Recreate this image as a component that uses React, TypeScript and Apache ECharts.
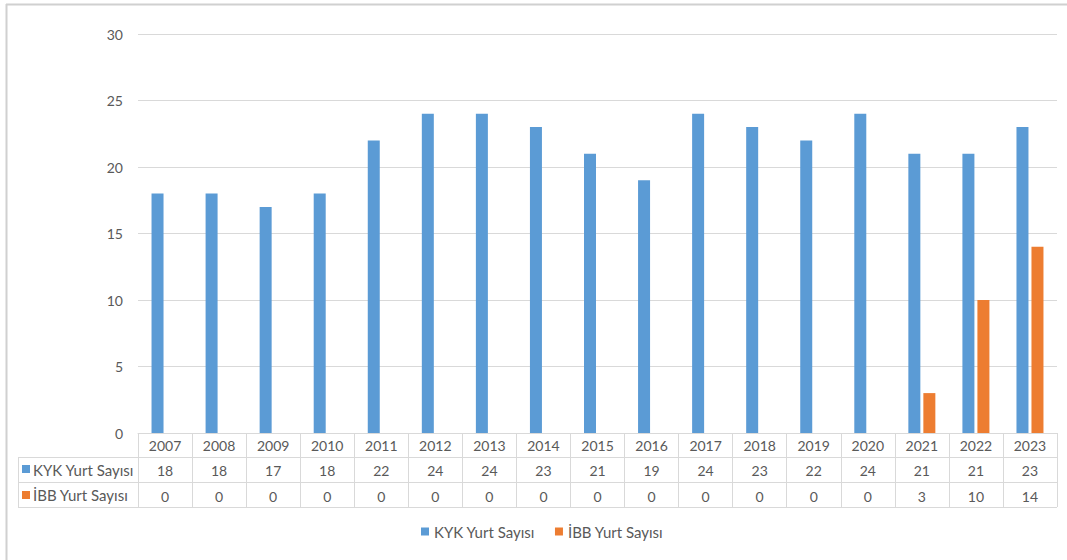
import React, { useEffect, useRef } from "react";
import * as echarts from "echarts";

const years = ["2007","2008","2009","2010","2011","2012","2013","2014","2015","2016","2017","2018","2019","2020","2021","2022","2023"];
const kyk = [18,18,17,18,22,24,24,23,21,19,24,23,22,24,21,21,23];
const ibb = [0,0,0,0,0,0,0,0,0,0,0,0,0,0,3,10,14];
const seriesNames = ["KYK Yurt Sayısı", "İBB Yurt Sayısı"];
const colors = ["#5b9bd5", "#ed7d31"];
const yTicks = { min: 0, max: 30, interval: 5 };

const FONT = "Lato, 'Open Sans', sans-serif";
const TXT = "#595959";
const LINE = "#d9d9d9";

export default function App() {
  const ref = useRef<HTMLDivElement>(null);
  useEffect(() => {
    const chart = echarts.init(ref.current!, null, { renderer: "svg" });
    const gridLeft = 138, gridRight = 1057, axisY = 433;
    const rowH = [457, 482, 507];
    const labelBase = { fontFamily: FONT, fontSize: 14, color: TXT, margin: 5 };
    chart.setOption({
      animation: false,
      backgroundColor: "#fff",
      textStyle: { fontFamily: FONT },
      grid: { left: gridLeft, right: 1067 - gridRight, top: 34, bottom: 560 - axisY },
      legend: {
        bottom: 16,
        left: 416,
        icon: "rect",
        itemWidth: 8,
        itemHeight: 8,
        itemGap: 20,
        textStyle: { color: TXT, fontSize: 15, fontFamily: FONT },
        data: seriesNames,
      },
      xAxis: [
        {
          type: "category",
          data: years,
          position: "bottom",
          axisLine: { lineStyle: { color: LINE } },
          axisTick: { show: true, interval: 0, length: rowH[2] - axisY, lineStyle: { color: LINE } },
          axisLabel: { ...labelBase, interval: 0 },
        },
        {
          type: "category",
          data: kyk.map(String),
          position: "bottom",
          offset: 25,
          axisLine: { show: false },
          axisTick: { show: false },
          axisLabel: { ...labelBase, interval: 0 },
        },
        {
          type: "category",
          data: ibb.map(String),
          position: "bottom",
          offset: 51,
          axisLine: { show: false },
          axisTick: { show: false },
          axisLabel: { ...labelBase, interval: 0 },
        },
      ],
      yAxis: {
        type: "value",
        min: yTicks.min,
        max: yTicks.max,
        interval: yTicks.interval,
        axisLine: { show: false },
        axisTick: { show: false },
        axisLabel: { fontFamily: FONT, fontSize: 14, color: TXT, margin: 15 },
        splitLine: { lineStyle: { color: LINE } },
      },
      series: [
        {
          name: seriesNames[0],
          type: "bar",
          data: kyk,
          barWidth: 12,
          barGap: "25%",
          itemStyle: { color: colors[0] },
        },
        {
          name: seriesNames[1],
          type: "bar",
          data: ibb,
          barWidth: 12,
          barGap: "25%",
          itemStyle: { color: colors[1] },
        },
      ],
      graphic: [
        { type: "line", shape: { x1: 6, y1: 4.5, x2: 1067, y2: 4.5 }, style: { stroke: "#d0d0d0", lineWidth: 2 } },
        { type: "line", shape: { x1: 6.5, y1: 4, x2: 6.5, y2: 560 }, style: { stroke: "#d0d0d0", lineWidth: 2 } },
        ...rowH.map((y) => ({
          type: "line",
          shape: { x1: 18, y1: y + 0.5, x2: gridRight, y2: y + 0.5 },
          style: { stroke: LINE, lineWidth: 1 },
        })),
        { type: "line", shape: { x1: 18.5, y1: rowH[0], x2: 18.5, y2: rowH[2] }, style: { stroke: LINE, lineWidth: 1 } },
        { type: "rect", shape: { x: 22, y: 465, width: 8, height: 8 }, style: { fill: colors[0] } },
        { type: "text", x: 33, y: 469.5, style: { text: seriesNames[0], fill: TXT, font: `15px ${FONT}`, textVerticalAlign: "middle" } },
        { type: "rect", shape: { x: 22, y: 491, width: 8, height: 8 }, style: { fill: colors[1] } },
        { type: "text", x: 33, y: 495, style: { text: seriesNames[1], fill: TXT, font: `15px ${FONT}`, textVerticalAlign: "middle" } },
      ],
    });
    return () => chart.dispose();
  }, []);
  return <div ref={ref} style={{ position: "absolute", left: 0, top: 0, width: 1067, height: 560 }} />;
}
